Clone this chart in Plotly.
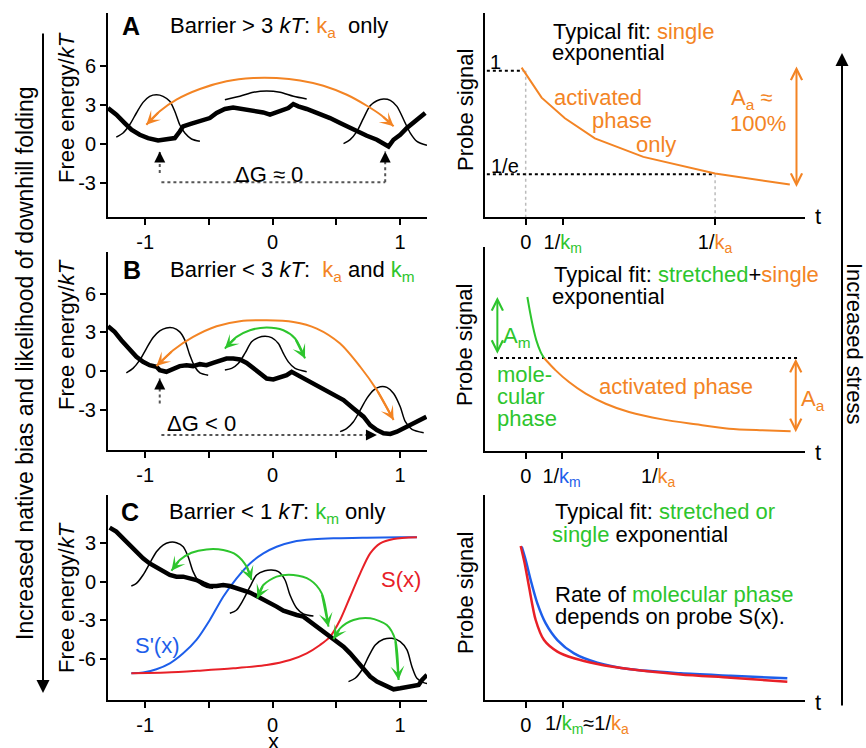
import plotly.graph_objects as go

W, H = 866, 748
FONT = "Liberation Sans, Arial, Helvetica, sans-serif"
ORANGE = "#F38424"
GREEN = "#2DC52D"
BLUE = "#1D5EEA"
RED = "#E82027"
DOTC = "#555555"

# ---------------- tick data ----------------
LEFT_XTICKS = [-1, -0.5, 0, 0.5, 1]
LEFT_XTICKTEXT = ["-1", "", "0", "", "1"]
AB_YTICKS = [6, 3, 0, -3]
AB_YTICKTEXT = ["6", "3", "0", "-3"]
C_YTICKS = [3, 0, -3, -6]
C_YTICKTEXT = ["3", "0", "-3", "-6"]


def km(c):
    return f"<span style='color:{c}'>k<sub>m</sub></span>"


def ka():
    return f"<span style='color:{ORANGE}'>k<sub>a</sub></span>"


RA_TTICKS = [0, 1.0, 5.12]
RA_TTEXT = ["0", "1/" + km(GREEN), "1/" + ka()]
RB_TTICKS = [0, 0.97, 3.58]
RB_TTEXT = ["0", "1/" + km(BLUE), "1/" + ka()]
RC_TTICKS = [0, 1.02]
RC_TTEXT = ["0", ""]

# ---------------- panel A (left) ----------------
A_land_x = [-1.292, -1.226, -1.161, -1.108, -1.043, -0.978, -0.899, -0.833, -0.768, -0.729, -0.703, -0.637,
            -0.572, -0.493, -0.440, -0.375, -0.310, -0.231, -0.178, -0.126, -0.074, -0.021, 0.018, 0.071,
            0.123, 0.162, 0.201, 0.267, 0.346, 0.450, 0.529, 0.608, 0.673, 0.739, 0.818, 0.870, 0.909,
            0.948, 1.001, 1.053, 1.119, 1.197]
A_land_y = [2.78, 2.27, 1.62, 1.11, 0.72, 0.46, 0.28, 0.33, 0.46, 0.97, 1.36, 1.57, 1.75, 2.01, 2.40, 2.71,
            2.83, 2.71, 2.65, 2.52, 2.44, 2.27, 2.40, 2.65, 2.78, 3.09, 2.91, 2.71, 2.44, 2.01, 1.62, 1.24,
            0.90, 0.64, 0.33, 0.08, -0.19, 0.33, 0.72, 1.24, 1.75, 2.40]
A_bell1_x = [-1.227, -1.174, -1.122, -1.069, -1.017, -0.965, -0.912, -0.860, -0.807, -0.768, -0.729, -0.689,
             -0.637, -0.571]
A_bell1_y = [0.54, 0.85, 1.49, 2.40, 3.22, 3.69, 3.81, 3.69, 3.30, 2.53, 1.49, 0.85, 0.39, 0.21]
A_bell2_x = [-0.375, -0.257, -0.152, -0.047, 0.058, 0.163, 0.267]
A_bell2_y = [3.43, 3.69, 4.00, 4.10, 4.00, 3.69, 3.48]
A_bell3_x = [0.556, 0.608, 0.661, 0.713, 0.765, 0.818, 0.870, 0.923, 0.975, 1.028, 1.080, 1.132, 1.211]
A_bell3_y = [0.03, 0.34, 0.98, 2.01, 2.96, 3.35, 3.48, 3.38, 2.91, 1.88, 0.85, 0.21, -0.10]
A_arc_x = [-0.991, -0.886, -0.755, -0.571, -0.362, -0.152, 0.031, 0.215, 0.398, 0.582, 0.739, 0.857, 0.949]
A_arc_y = [1.49, 2.53, 3.43, 4.25, 4.85, 5.10, 5.10, 4.92, 4.51, 3.81, 2.96, 2.19, 1.37]
A_dgL_x = [-0.886, -0.886]
A_dgL_y = [-2.24, -0.57]
A_dgR_x = [0.883, 0.883]
A_dgR_y = [-2.96, -0.57]
A_dgH_x = [-0.873, 0.883]
A_dgH_y = [-2.96, -2.96]

# ---------------- panel B (left) ----------------
B_land_x = [-1.292, -1.240, -1.187, -1.122, -1.069, -1.017, -0.965, -0.912, -0.886, -0.834, -0.781, -0.729,
            -0.676, -0.624, -0.571, -0.519, -0.467, -0.414, -0.362, -0.309, -0.257, -0.204, -0.152, -0.100,
            -0.047, 0.005, 0.058, 0.110, 0.149, 0.189, 0.241, 0.320, 0.398, 0.477, 0.556, 0.634, 0.713,
            0.765, 0.818, 0.870, 0.923, 0.975, 1.028, 1.080, 1.132, 1.206]
B_land_y = [3.48, 3.04, 2.40, 1.62, 1.11, 0.72, 0.46, 0.34, 0.08, -0.05, 0.21, 0.39, 0.46, 0.39, 0.54, 0.46,
            0.64, 0.85, 0.98, 0.98, 0.90, 0.64, 0.21, -0.18, -0.57, -0.64, -0.44, -0.31, -0.05, -0.26, -0.57,
            -0.95, -1.34, -1.73, -2.24, -2.89, -3.53, -4.18, -4.56, -4.82, -4.87, -4.69, -4.43, -4.18, -3.92,
            -3.53]
B_bell1_x = [-1.148, -1.096, -1.043, -0.991, -0.938, -0.886, -0.834, -0.781, -0.729, -0.689, -0.650, -0.611,
             -0.571, -0.506]
B_bell1_y = [-0.13, 0.21, 0.85, 1.75, 2.60, 3.12, 3.35, 3.35, 3.04, 2.40, 1.24, 0.34, -0.13, -0.31]
B_bell2_x = [-0.375, -0.322, -0.270, -0.218, -0.165, -0.113, -0.060, -0.008, 0.045, 0.084, 0.123, 0.176, 0.267]
B_bell2_y = [0.08, 0.21, 0.59, 1.37, 2.27, 2.60, 2.71, 2.60, 2.14, 1.37, 0.72, 0.21, -0.05]
B_bell3_x = [0.529, 0.582, 0.634, 0.687, 0.739, 0.792, 0.844, 0.896, 0.949, 1.001, 1.041, 1.093, 1.185]
B_bell3_y = [-4.69, -4.43, -3.92, -3.02, -2.11, -1.47, -1.21, -1.26, -1.73, -2.76, -3.92, -4.51, -4.77]
B_arcO_x = [-0.912, -0.781, -0.624, -0.440, -0.257, -0.047, 0.163, 0.346, 0.529, 0.687, 0.818, 0.949]
B_arcO_y = [0.39, 1.62, 2.65, 3.48, 3.87, 3.94, 3.81, 3.30, 2.14, 0.34, -1.47, -3.79]
B_arcG_x = [-0.375, -0.283, -0.178, -0.047, 0.084, 0.176, 0.254]
B_arcG_y = [1.75, 2.65, 3.17, 3.38, 3.17, 2.53, 0.98]
B_dgV_x = [-0.886, -0.886]
B_dgV_y = [-2.50, -0.57]
B_dgH_x = [-0.873, 0.818]
B_dgH_y = [-4.95, -4.95]

# ---------------- panel C (left) ----------------
C_land_x = [-1.279, -1.227, -1.174, -1.122, -1.069, -1.017, -0.965, -0.912, -0.860, -0.807, -0.755, -0.702,
            -0.650, -0.598, -0.545, -0.493, -0.440, -0.388, -0.336, -0.283, -0.231, -0.178, -0.126, -0.073,
            -0.021, 0.031, 0.084, 0.136, 0.189, 0.241, 0.294, 0.346, 0.398, 0.451, 0.503, 0.556, 0.608,
            0.661, 0.713, 0.765, 0.818, 0.896, 0.949, 1.001, 1.054, 1.106, 1.145, 1.172, 1.211]
C_land_y = [4.20, 3.89, 3.37, 2.85, 2.33, 1.81, 1.42, 1.11, 0.78, 0.52, 0.39, 0.39, 0.26, 0.13, -0.13, -0.34,
            -0.34, -0.26, -0.34, -0.52, -0.65, -0.85, -1.11, -1.37, -1.63, -1.94, -2.25, -2.46, -2.59, -2.72,
            -3.11, -3.50, -3.89, -4.27, -4.66, -5.05, -5.57, -6.22, -6.87, -7.38, -7.77, -8.16, -8.37, -8.29,
            -8.21, -8.16, -8.03, -7.64, -7.25]
C_bell1_x = [-1.109, -1.069, -1.017, -0.965, -0.912, -0.860, -0.807, -0.755, -0.702, -0.663, -0.624, -0.571,
             -0.519, -0.467]
C_bell1_y = [-0.34, -0.13, 0.52, 1.42, 2.33, 2.85, 3.06, 3.03, 2.72, 1.94, 0.78, -0.13, -0.44, -0.52]
C_bell2_x = [-0.336, -0.283, -0.231, -0.178, -0.126, -0.060, -0.008, 0.045, 0.097, 0.136, 0.189, 0.241, 0.320]
C_bell2_y = [-2.46, -2.20, -1.42, -0.39, 0.52, 0.85, 0.91, 0.78, 0.13, -1.04, -2.07, -2.51, -2.67]
C_bell3_x = [0.595, 0.647, 0.700, 0.752, 0.805, 0.870, 0.936, 1.001, 1.054, 1.093, 1.132, 1.185, 1.237]
C_bell3_y = [-7.77, -7.51, -6.87, -5.83, -4.92, -4.48, -4.40, -4.66, -5.31, -6.61, -7.51, -7.85, -7.95]
C_Sp_x = [-1.109, -1.017, -0.912, -0.807, -0.702, -0.598, -0.493, -0.388, -0.283, -0.178, -0.073, 0.031,
          0.163, 0.320, 0.477, 0.739, 1.001, 1.132]
C_Sp_y = [-7.12, -7.07, -6.81, -6.35, -5.57, -4.53, -2.98, -1.17, 0.26, 1.42, 2.20, 2.72, 3.11, 3.29, 3.37,
          3.42, 3.45, 3.45]
C_S_x = [-1.109, -0.834, -0.571, -0.309, -0.047, 0.136, 0.267, 0.372, 0.451, 0.529, 0.608, 0.687, 0.765,
         0.844, 0.949, 1.132]
C_S_y = [-7.12, -7.07, -6.92, -6.74, -6.48, -6.09, -5.57, -4.92, -4.27, -2.98, -1.17, 0.65, 2.20, 2.98, 3.32,
         3.45]
C_arc1_x = [-0.794, -0.729, -0.637, -0.519, -0.388, -0.283, -0.204, -0.165]
C_arc1_y = [0.85, 1.68, 2.25, 2.51, 2.46, 2.07, 1.17, 0.13]
C_arc2_x = [-0.121, -0.073, 0.031, 0.163, 0.294, 0.385, 0.438]
C_arc2_y = [-1.30, -0.26, 0.39, 0.52, 0.13, -0.91, -3.50]
C_arc3_x = [0.477, 0.529, 0.634, 0.765, 0.896, 0.962, 0.988]
C_arc3_y = [-4.48, -3.63, -2.98, -2.85, -3.37, -4.53, -7.64]

# ---------------- right panels (probe signal vs t) ----------------
RA_t = [-0.11, 0.43, 1.06, 1.87, 3.18, 5.12, 7.14]
RA_s = [1.02, 0.836, 0.71, 0.587, 0.474, 0.372, 0.305]
RA_one_t = [-1.05, -0.06]
RA_one_s = [1.0, 1.0]
RA_inve_t = [-1.05, 5.07]
RA_inve_s = [0.368, 0.368]
RA_v0_t = [0, 0]
RA_v0_s = [1.0, 0.106]
RA_v1_t = [5.12, 5.12]
RA_v1_s = [0.368, 0.106]
RA_Aa_t = 7.32
RA_Aa_s = [1.027, 0.28]

RB_g_t = [0.045, 0.117, 0.198, 0.288, 0.405, 0.495]
RB_g_s = [0.945, 0.853, 0.761, 0.679, 0.607, 0.571]
RB_o_t = [0.495, 0.811, 1.171, 1.622, 2.162, 2.793, 3.694, 4.595, 5.495, 6.396, 7.162]
RB_o_s = [0.571, 0.495, 0.423, 0.352, 0.290, 0.239, 0.194, 0.164, 0.137, 0.127, 0.121]
RB_lvl_t = [-0.856, 7.34]
RB_lvl_s = [0.571, 0.571]
RB_Am_t = -0.766
RB_Am_s = [0.945, 0.587]
RB_Aa_t = 7.30
RB_Aa_s = [0.566, 0.106]

RC_b_t = [-0.108, 0, 0.135, 0.315, 0.541, 0.856, 1.306, 1.937, 2.838, 4.189, 5.541, 7.072]
RC_b_s = [0.941, 0.859, 0.736, 0.593, 0.470, 0.368, 0.286, 0.229, 0.188, 0.164, 0.149, 0.133]
RC_r_t = [-0.135, -0.027, 0.090, 0.270, 0.495, 0.856, 1.306, 1.937, 2.838, 4.189, 5.541, 7.072]
RC_r_s = [0.945, 0.838, 0.695, 0.491, 0.368, 0.297, 0.256, 0.221, 0.188, 0.157, 0.137, 0.112]

# ---------------- figure ----------------
fig = go.Figure()
annotations = []


def axn(n, k):
    return k if n == 1 else f"{k}{n}"


def add_line(xs, ys, n, color, width, dash="solid", spline=False):
    ln = dict(color=color, width=width, dash=dash)
    if spline:
        ln.update(shape="spline", smoothing=0.8)
    fig.add_trace(go.Scatter(x=xs, y=ys, mode="lines", line=ln, xaxis=axn(n, "x"), yaxis=axn(n, "y"),
                             hoverinfo="skip", showlegend=False))


def head(xs, ys, n, color, at_end=True, width=2, size=1.15):
    i, j = (-1, -2) if at_end else (0, 1)
    annotations.append(dict(x=xs[i], y=ys[i], ax=xs[j], ay=ys[j], xref=axn(n, "x"), yref=axn(n, "y"),
                            axref=axn(n, "x"), ayref=axn(n, "y"), showarrow=True, arrowhead=3,
                            arrowsize=size, arrowwidth=width, arrowcolor=color, text="", standoff=0))


def head_px(x, y, n, color, dx, dy, width=2, size=1.1):
    annotations.append(dict(x=x, y=y, xref=axn(n, "x"), yref=axn(n, "y"), ax=dx, ay=dy, showarrow=True,
                            arrowhead=2, arrowsize=size, arrowwidth=width, arrowcolor=color, text="",
                            standoff=0))


def dbl(x, ys, n, color):
    annotations.append(dict(x=x, y=ys[0], ax=x, ay=ys[1], xref=axn(n, "x"), yref=axn(n, "y"),
                            axref=axn(n, "x"), ayref=axn(n, "y"), showarrow=True, arrowhead=5,
                            startarrowhead=5, arrowside="end+start", arrowsize=1.1, startarrowsize=1.1,
                            arrowwidth=2, arrowcolor=color, text="", standoff=0, startstandoff=0))


def txt(s, xpx, ypx, size=22, color="black", xanchor="left", angle=0):
    annotations.append(dict(text=s, x=xpx / W, y=1 - ypx / H, xref="paper", yref="paper", showarrow=False,
                            xanchor=xanchor, yanchor="middle", textangle=angle,
                            font=dict(size=size, color=color, family=FONT)))


# Panel A left
add_line(A_bell1_x, A_bell1_y, 1, "black", 1.5, spline=True)
add_line(A_bell2_x, A_bell2_y, 1, "black", 1.5, spline=True)
add_line(A_bell3_x, A_bell3_y, 1, "black", 1.5, spline=True)
add_line(A_land_x, A_land_y, 1, "black", 4.5)
add_line(A_arc_x, A_arc_y, 1, ORANGE, 2, spline=True)
head(A_arc_x, A_arc_y, 1, ORANGE, True)
head(A_arc_x, A_arc_y, 1, ORANGE, False)
add_line(A_dgL_x, A_dgL_y, 1, DOTC, 2, dash="dot")
add_line(A_dgR_x, A_dgR_y, 1, DOTC, 2, dash="dot")
add_line(A_dgH_x, A_dgH_y, 1, DOTC, 2, dash="dot")
head_px(A_dgL_x[-1], A_dgL_y[-1], 1, "black", 0, 9)
head_px(A_dgR_x[-1], A_dgR_y[-1], 1, "black", 0, 9)

# Panel B left
add_line(B_bell1_x, B_bell1_y, 3, "black", 1.5, spline=True)
add_line(B_bell2_x, B_bell2_y, 3, "black", 1.5, spline=True)
add_line(B_bell3_x, B_bell3_y, 3, "black", 1.5, spline=True)
add_line(B_land_x, B_land_y, 3, "black", 4.5)
add_line(B_arcO_x, B_arcO_y, 3, ORANGE, 2, spline=True)
head(B_arcO_x, B_arcO_y, 3, ORANGE, True)
head(B_arcO_x, B_arcO_y, 3, ORANGE, False)
add_line(B_arcG_x, B_arcG_y, 3, GREEN, 2, spline=True)
head(B_arcG_x, B_arcG_y, 3, GREEN, True)
head(B_arcG_x, B_arcG_y, 3, GREEN, False)
add_line(B_dgV_x, B_dgV_y, 3, DOTC, 2, dash="dot")
add_line(B_dgH_x, B_dgH_y, 3, DOTC, 2, dash="dot")
head_px(B_dgV_x[-1], B_dgV_y[-1], 3, "black", 0, 9)
head_px(B_dgH_x[-1], B_dgH_y[-1], 3, "black", -9, 0)

# Panel C left
add_line(C_Sp_x, C_Sp_y, 5, BLUE, 2, spline=True)
add_line(C_S_x, C_S_y, 5, RED, 2, spline=True)
add_line(C_bell1_x, C_bell1_y, 5, "black", 1.5, spline=True)
add_line(C_bell2_x, C_bell2_y, 5, "black", 1.5, spline=True)
add_line(C_bell3_x, C_bell3_y, 5, "black", 1.5, spline=True)
add_line(C_land_x, C_land_y, 5, "black", 4.5)
for ax_, ay_ in ((C_arc1_x, C_arc1_y), (C_arc2_x, C_arc2_y), (C_arc3_x, C_arc3_y)):
    add_line(ax_, ay_, 5, GREEN, 2, spline=True)
    head(ax_, ay_, 5, GREEN, True)
    head(ax_, ay_, 5, GREEN, False)

# Panel A right
add_line(RA_v0_t, RA_v0_s, 2, "#bbbbbb", 1.5, dash="dot")
add_line(RA_v1_t, RA_v1_s, 2, "#bbbbbb", 1.5, dash="dot")
add_line(RA_one_t, RA_one_s, 2, "black", 2, dash="dot")
add_line(RA_inve_t, RA_inve_s, 2, "black", 2, dash="dot")
add_line(RA_t, RA_s, 2, ORANGE, 2)
dbl(RA_Aa_t, RA_Aa_s, 2, ORANGE)

# Panel B right
add_line(RB_lvl_t, RB_lvl_s, 4, "black", 2, dash="dot")
add_line(RB_o_t, RB_o_s, 4, ORANGE, 2, spline=True)
add_line(RB_g_t, RB_g_s, 4, GREEN, 2, spline=True)
dbl(RB_Am_t, RB_Am_s, 4, GREEN)
dbl(RB_Aa_t, RB_Aa_s, 4, ORANGE)

# Panel C right
add_line(RC_b_t, RC_b_s, 6, BLUE, 2.5, spline=True)
add_line(RC_r_t, RC_r_s, 6, RED, 2.5, spline=True)

# ---------------- texts ----------------
txt("<b>A</b>", 131, 26, size=25, xanchor="center")
txt("Barrier &gt; 3 <i>kT</i>: " + ka() + "&nbsp; only", 168, 27)
txt("<b>B</b>", 132, 270, size=25, xanchor="center")
txt("Barrier &lt; 3 <i>kT</i>:&nbsp; " + ka() + " and " + km(GREEN), 168, 271)
txt("<b>C</b>", 130, 512, size=25, xanchor="center")
txt("Barrier &lt; 1 <i>kT</i>: " + km(GREEN) + " only", 167, 513)

txt("ΔG ≈ 0", 269, 175, xanchor="center")
txt("ΔG &lt; 0", 165, 423)
txt("S'(x)", 157, 645, color=BLUE, xanchor="center")
txt("S(x)", 401, 579, color=RED, xanchor="center")
txt("x", 273, 741, xanchor="center")

for yc in (108, 335, 598):
    txt("Free energy/<i>kT</i>", 66, yc, angle=-90, xanchor="center")
for yc in (110, 345, 593):
    txt("Probe signal", 465, yc, angle=-90, xanchor="center")

# right A
txt("Typical fit: <span style='color:%s'>single</span>" % ORANGE, 551, 31)
txt("exponential", 550, 52)
txt("1", 495, 62, size=20, xanchor="center")
txt("1/e", 505, 166, size=20, xanchor="center")
txt("activated", 598, 98, color=ORANGE, xanchor="center")
txt("phase", 622, 121, color=ORANGE, xanchor="center")
txt("only", 656, 144, color=ORANGE, xanchor="center")
txt("A<sub>a</sub> ≈", 751, 99, color=ORANGE, xanchor="center")
txt("100%", 758, 123, color=ORANGE, xanchor="center")
txt("t", 818, 216, xanchor="center")

# right B
txt("Typical fit: <span style='color:%s'>stretched</span>+<span style='color:%s'>single</span>"
    % (GREEN, ORANGE), 552, 274)
txt("exponential", 550, 296)
txt("A<sub>m</sub>", 517, 337, color=GREEN, xanchor="center")
txt("mole-", 495, 374, color=GREEN)
txt("cular", 495, 396, color=GREEN)
txt("phase", 495, 418, color=GREEN)
txt("activated phase", 676, 387, color=ORANGE, xanchor="center")
txt("A<sub>a</sub>", 813, 400, color=ORANGE, xanchor="center")
txt("t", 818, 452, xanchor="center")

# right C
txt("Typical fit: <span style='color:%s'>stretched or</span>" % GREEN, 553, 512)
txt("<span style='color:%s'>single</span> exponential" % GREEN, 550, 534)
txt("Rate of <span style='color:%s'>molecular phase</span>" % GREEN, 553, 594)
txt("depends on probe S(x).", 553, 616)
txt("t", 818, 702, xanchor="center")
txt("1/" + km(GREEN) + "≈1/" + ka(), 543, 724, size=20)

# side labels and arrows
txt("Increased native bias and likelihood of downhill folding", 25, 363, size=23, angle=-90,
    xanchor="center")
txt("Increased stress", 854, 343, size=22, angle=90, xanchor="center")
annotations.append(dict(x=43 / W, y=1 - 693 / H, xref="paper", yref="paper", ax=0, ay=-661, showarrow=True,
                        arrowhead=2, arrowsize=1.3, arrowwidth=2, arrowcolor="black", text="", standoff=0))
annotations.append(dict(x=842 / W, y=1 - 53 / H, xref="paper", yref="paper", ax=0, ay=654, showarrow=True,
                        arrowhead=2, arrowsize=1.3, arrowwidth=2, arrowcolor="black", text="", standoff=0))

# ---------------- axes ----------------
base = dict(showline=True, linewidth=2, linecolor="black", showgrid=False, zeroline=False, ticks="outside",
            ticklen=6, tickwidth=2, tickcolor="black", fixedrange=True,
            tickfont=dict(family=FONT, size=20, color="black"))


def xdom(a, b):
    return [a / W, b / W]


def ydom(top, bottom):
    return [1 - bottom / H, 1 - top / H]


LEFT_XR = [-1.292, 1.211]
RIGHT_TR = [-1.10, 7.55]
panels = {
    1: dict(xd=xdom(108, 427), yd=ydom(13, 217), xr=LEFT_XR, yr=[-5.64, 10.13],
            xt=(LEFT_XTICKS, LEFT_XTICKTEXT), yt=(AB_YTICKS, AB_YTICKTEXT)),
    3: dict(xd=xdom(108, 427), yd=ydom(252, 450), xr=LEFT_XR, yr=[-6.11, 9.23],
            xt=(LEFT_XTICKS, LEFT_XTICKTEXT), yt=(AB_YTICKS, AB_YTICKTEXT)),
    5: dict(xd=xdom(108, 427), yd=ydom(495, 700), xr=LEFT_XR, yr=[-9.20, 6.74],
            xt=(LEFT_XTICKS, LEFT_XTICKTEXT), yt=(C_YTICKS, C_YTICKTEXT)),
    2: dict(xd=xdom(485, 805), yd=ydom(13, 217), xr=RIGHT_TR, yr=[0.106, 1.354],
            xt=(RA_TTICKS, RA_TTEXT), yt=None),
    4: dict(xd=xdom(485, 805), yd=ydom(247, 451), xr=RIGHT_TR, yr=[0.0, 1.252],
            xt=(RB_TTICKS, RB_TTEXT), yt=None),
    6: dict(xd=xdom(485, 805), yd=ydom(495, 700), xr=RIGHT_TR, yr=[0.0, 1.258],
            xt=(RC_TTICKS, RC_TTEXT), yt=None),
}

layout_axes = {}
for n, p in panels.items():
    xa = dict(base, domain=p["xd"], range=p["xr"], anchor=axn(n, "y"), tickmode="array",
              tickvals=p["xt"][0], ticktext=p["xt"][1])
    ya = dict(base, domain=p["yd"], range=p["yr"], anchor=axn(n, "x"))
    if p["yt"] is None:
        ya.update(ticks="", showticklabels=False)
    else:
        ya.update(tickmode="array", tickvals=p["yt"][0], ticktext=p["yt"][1])
    layout_axes["xaxis" if n == 1 else f"xaxis{n}"] = xa
    layout_axes["yaxis" if n == 1 else f"yaxis{n}"] = ya

fig.update_layout(width=W, height=H, margin=dict(l=0, r=0, t=0, b=0), paper_bgcolor="white",
                  plot_bgcolor="white", showlegend=False, annotations=annotations,
                  font=dict(family=FONT, color="black"), **layout_axes)

fig.write_html("out.html")
